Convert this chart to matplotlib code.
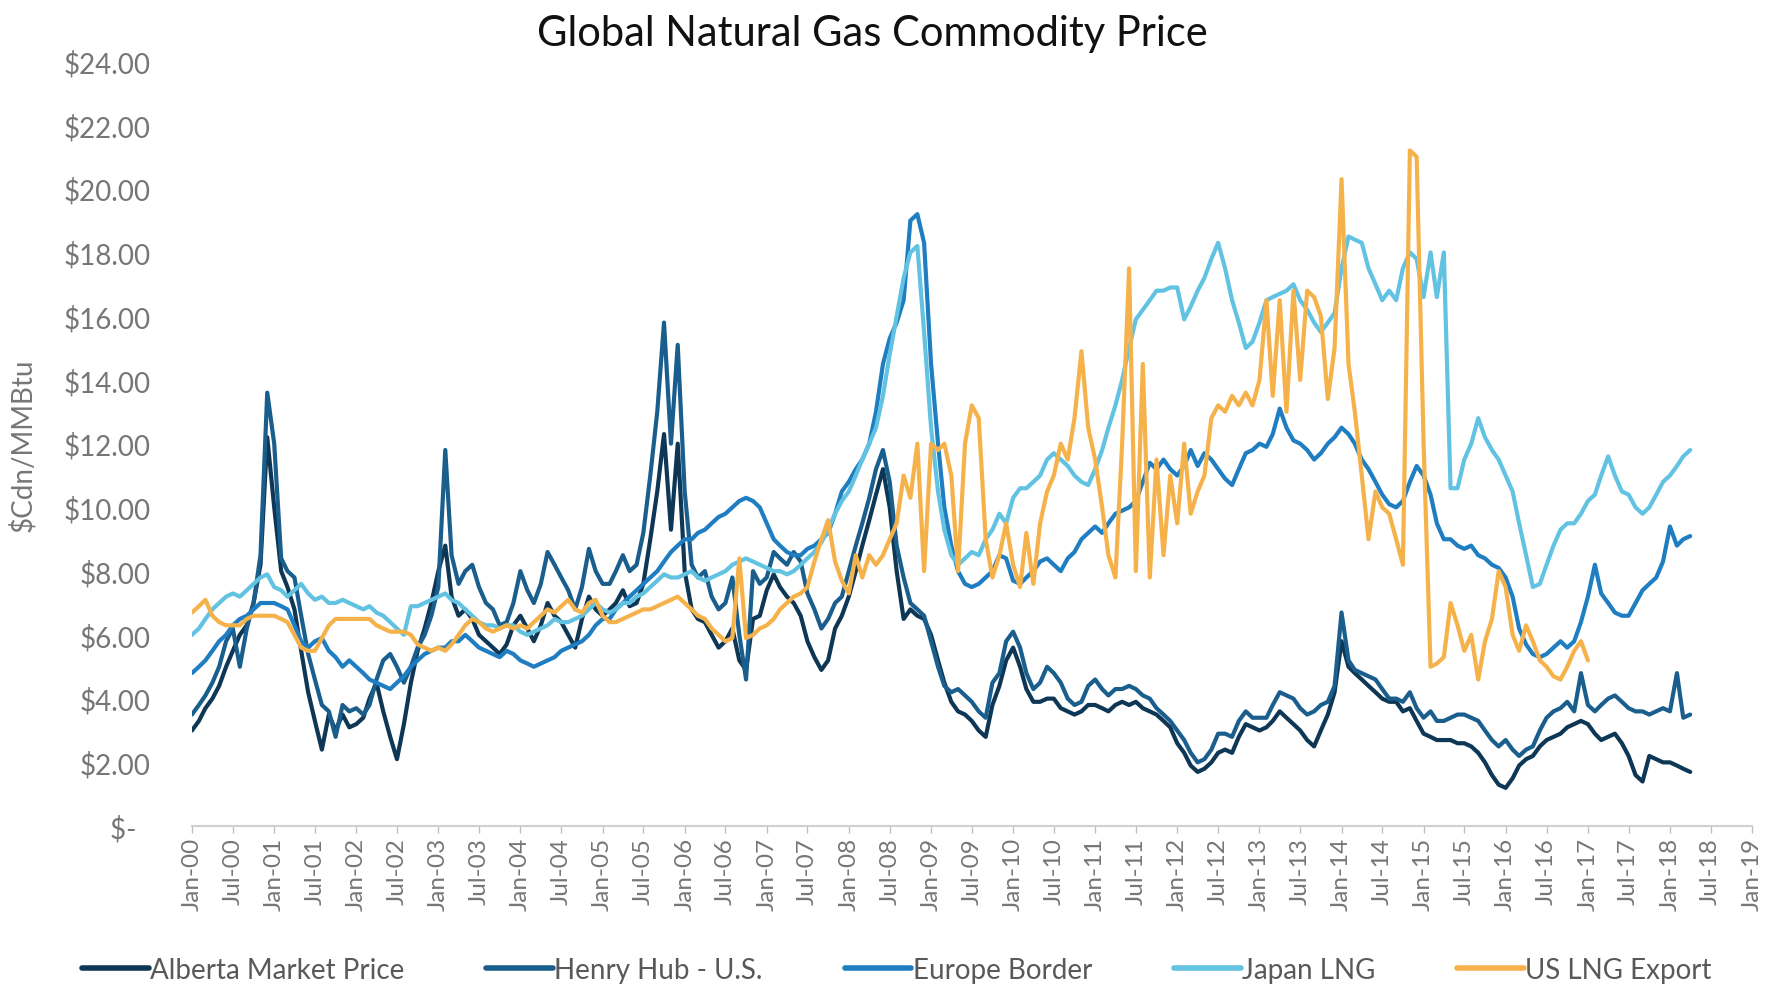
import numpy as np
import pandas as pd
import matplotlib
matplotlib.use("Agg")
import matplotlib.pyplot as plt
from matplotlib.ticker import FuncFormatter, FixedLocator

# monthly prices, $Cdn/MMBtu, Jan-00 onwards
alberta = [
    3.0, 3.3, 3.7, 4.0, 4.4, 5.0, 5.5, 6.0, 6.3, 7.0, 8.2, 12.2,
    10.0, 8.0, 7.5, 6.8, 5.5, 4.2, 3.3, 2.4, 3.5, 3.0, 3.5, 3.1,
    3.2, 3.4, 4.0, 4.5, 3.6, 2.8, 2.1, 3.2, 4.5, 5.5, 6.2, 7.0,
    8.0, 8.8, 7.2, 6.6, 6.8, 6.5, 6.0, 5.8, 5.6, 5.4, 5.7, 6.3,
    6.6, 6.2, 5.8, 6.3, 7.0, 6.6, 6.4, 6.0, 5.6, 6.5, 7.2, 6.8,
    6.6, 6.8, 7.0, 7.4, 6.9, 7.0, 7.6, 9.0, 10.5, 12.3, 9.3, 12.0,
    8.0, 6.8, 6.5, 6.4, 6.0, 5.6, 5.8, 6.2, 5.2, 4.9, 6.5, 6.6,
    7.4, 7.9, 7.5, 7.2, 7.0, 6.6, 5.8, 5.3, 4.9, 5.2, 6.2, 6.6,
    7.2, 8.0, 8.8, 9.6, 10.4, 11.2, 10.0, 8.0, 6.5, 6.8, 6.6, 6.5,
    6.0, 5.2, 4.5, 3.9, 3.6, 3.5, 3.3, 3.0, 2.8, 3.8, 4.4, 5.2,
    5.6, 5.0, 4.3, 3.9, 3.9, 4.0, 4.0, 3.7, 3.6, 3.5, 3.6, 3.8,
    3.8, 3.7, 3.6, 3.8, 3.9, 3.8, 3.9, 3.7, 3.6, 3.5, 3.3, 3.1,
    2.6, 2.3, 1.9, 1.7, 1.8, 2.0, 2.3, 2.4, 2.3, 2.8, 3.2, 3.1,
    3.0, 3.1, 3.3, 3.6, 3.4, 3.2, 3.0, 2.7, 2.5, 3.0, 3.5, 4.2,
    5.8, 5.0, 4.8, 4.6, 4.4, 4.2, 4.0, 3.9, 3.9, 3.6, 3.7, 3.3,
    2.9, 2.8, 2.7, 2.7, 2.7, 2.6, 2.6, 2.5, 2.3, 2.0, 1.6, 1.3,
    1.2, 1.5, 1.9, 2.1, 2.2, 2.5, 2.7, 2.8, 2.9, 3.1, 3.2, 3.3,
    3.2, 2.9, 2.7, 2.8, 2.9, 2.6, 2.2, 1.6, 1.4, 2.2, 2.1, 2.0,
    2.0, 1.9, 1.8, 1.7,
]

henry_hub = [
    3.5, 3.8, 4.1, 4.5, 5.0, 5.8, 6.2, 5.0, 6.2, 7.0, 8.5, 13.6,
    12.0, 8.4, 8.0, 7.8, 6.6, 5.4, 4.6, 3.8, 3.6, 2.8, 3.8, 3.6,
    3.7, 3.5, 3.8, 4.6, 5.2, 5.4, 5.0, 4.5, 5.0, 5.6, 6.0, 6.6,
    7.5, 11.8, 8.5, 7.6, 8.0, 8.2, 7.5, 7.0, 6.8, 6.3, 6.4, 7.0,
    8.0, 7.4, 7.0, 7.6, 8.6, 8.2, 7.8, 7.4, 6.8, 7.5, 8.7, 8.0,
    7.6, 7.6, 8.0, 8.5, 8.0, 8.2, 9.2, 11.0, 13.0, 15.8, 12.0, 15.1,
    10.5, 8.2, 7.8, 8.0, 7.2, 6.8, 7.0, 7.8, 6.0, 4.6, 8.0, 7.6,
    7.8, 8.6, 8.4, 8.2, 8.6, 8.3, 7.3, 6.8, 6.2, 6.5, 7.0, 7.2,
    8.0, 8.8, 9.5, 10.3, 11.2, 11.8, 10.8, 8.8, 7.8, 7.0, 6.8, 6.6,
    5.8, 5.0, 4.4, 4.2, 4.3, 4.1, 3.9, 3.6, 3.4, 4.5, 4.8, 5.8,
    6.1, 5.6, 4.8, 4.3, 4.5, 5.0, 4.8, 4.5, 4.0, 3.8, 3.9, 4.4,
    4.6, 4.3, 4.1, 4.3, 4.3, 4.4, 4.3, 4.1, 4.0, 3.7, 3.5, 3.3,
    3.0, 2.7, 2.3, 2.0, 2.1, 2.4, 2.9, 2.9, 2.8, 3.3, 3.6, 3.4,
    3.4, 3.4, 3.8, 4.2, 4.1, 4.0, 3.7, 3.5, 3.6, 3.8, 3.9, 4.4,
    6.7, 5.2, 4.9, 4.8, 4.7, 4.6, 4.3, 4.0, 4.0, 3.9, 4.2, 3.7,
    3.4, 3.6, 3.3, 3.3, 3.4, 3.5, 3.5, 3.4, 3.3, 3.0, 2.7, 2.5,
    2.7, 2.4, 2.2, 2.4, 2.5, 3.0, 3.4, 3.6, 3.7, 3.9, 3.6, 4.8,
    3.8, 3.6, 3.8, 4.0, 4.1, 3.9, 3.7, 3.6, 3.6, 3.5, 3.6, 3.7,
    3.6, 4.8, 3.4, 3.5,
]

europe_border = [
    4.8, 5.0, 5.2, 5.5, 5.8, 6.0, 6.3, 6.5, 6.6, 6.8, 7.0, 7.0,
    7.0, 6.9, 6.8, 6.3, 5.8, 5.6, 5.8, 5.9, 5.5, 5.3, 5.0, 5.2,
    5.0, 4.8, 4.6, 4.5, 4.4, 4.3, 4.5, 4.7, 5.0, 5.2, 5.4, 5.5,
    5.6, 5.6, 5.8, 5.8, 6.0, 5.8, 5.6, 5.5, 5.4, 5.3, 5.5, 5.4,
    5.2, 5.1, 5.0, 5.1, 5.2, 5.3, 5.5, 5.6, 5.7, 5.8, 6.0, 6.3,
    6.5, 6.5, 6.8, 7.0, 7.2, 7.4, 7.6, 7.8, 8.0, 8.3, 8.6, 8.8,
    9.0, 9.0, 9.2, 9.3, 9.5, 9.7, 9.8, 10.0, 10.2, 10.3, 10.2, 10.0,
    9.5, 9.0, 8.8, 8.6, 8.5, 8.5, 8.7, 8.8, 9.0, 9.2, 9.8, 10.5,
    10.8, 11.2, 11.5, 12.0, 13.0, 14.5, 15.3, 15.8, 16.5, 19.0, 19.2, 18.3,
    14.5, 12.0, 10.0, 8.8, 8.0, 7.6, 7.5, 7.6, 7.8, 8.0, 8.5, 8.4,
    7.7, 7.6, 7.8, 8.0, 8.3, 8.4, 8.2, 8.0, 8.4, 8.6, 9.0, 9.2,
    9.4, 9.2, 9.5, 9.8, 9.9, 10.0, 10.2, 10.8, 11.4, 11.2, 11.5, 11.2,
    11.0, 11.3, 11.8, 11.3, 11.7, 11.5, 11.2, 10.9, 10.7, 11.2, 11.7, 11.8,
    12.0, 11.9, 12.3, 13.1, 12.5, 12.1, 12.0, 11.8, 11.5, 11.7, 12.0, 12.2,
    12.5, 12.3, 12.0, 11.5, 11.2, 10.8, 10.4, 10.1, 10.0, 10.2, 10.8, 11.3,
    11.0, 10.4, 9.5, 9.0, 9.0, 8.8, 8.7, 8.8, 8.5, 8.4, 8.2, 8.1,
    7.8, 7.2, 6.2, 5.7, 5.4, 5.3, 5.4, 5.6, 5.8, 5.6, 5.8, 6.4,
    7.2, 8.2, 7.3, 7.0, 6.7, 6.6, 6.6, 7.0, 7.4, 7.6, 7.8, 8.3,
    9.4, 8.8, 9.0, 9.1,
]

japan_lng = [
    6.0, 6.2, 6.5, 6.8, 7.0, 7.2, 7.3, 7.2, 7.4, 7.6, 7.8, 7.9,
    7.5, 7.4, 7.2, 7.4, 7.6, 7.3, 7.1, 7.2, 7.0, 7.0, 7.1, 7.0,
    6.9, 6.8, 6.9, 6.7, 6.6, 6.4, 6.2, 6.0, 6.9, 6.9, 7.0, 7.1,
    7.2, 7.3, 7.1, 7.0, 6.8, 6.6, 6.4, 6.3, 6.3, 6.2, 6.3, 6.3,
    6.1, 6.0, 6.1, 6.2, 6.3, 6.5, 6.4, 6.4, 6.5, 6.6, 6.8, 7.0,
    6.8, 6.7, 6.8, 7.0, 7.0, 7.2, 7.3, 7.5, 7.7, 7.9, 7.8, 7.8,
    7.9, 8.0, 7.8, 7.7, 7.8, 7.9, 8.0, 8.2, 8.3, 8.4, 8.3, 8.2,
    8.1, 8.0, 8.0, 7.9, 8.0, 8.2, 8.4, 8.6, 8.9, 9.3, 9.8, 10.2,
    10.5, 11.0, 11.5, 12.0, 12.5, 13.5, 14.8, 16.0, 17.2, 18.0, 18.2, 15.5,
    12.5, 10.5, 9.3, 8.5, 8.2, 8.4, 8.6, 8.5, 9.0, 9.3, 9.8, 9.5,
    10.3, 10.6, 10.6, 10.8, 11.0, 11.5, 11.7, 11.5, 11.3, 11.0, 10.8, 10.7,
    11.2, 11.8, 12.5, 13.2, 14.0, 15.0, 15.9, 16.2, 16.5, 16.8, 16.8, 16.9,
    16.9, 15.9, 16.3, 16.8, 17.2, 17.8, 18.3, 17.5, 16.5, 15.8, 15.0, 15.2,
    15.8, 16.5, 16.6, 16.7, 16.8, 17.0, 16.5, 16.2, 15.8, 15.5, 15.8, 16.1,
    17.5, 18.5, 18.4, 18.3, 17.5, 17.0, 16.5, 16.8, 16.5, 17.5, 18.0, 17.8,
    16.6, 18.0, 16.6, 18.0, 10.6, 10.6, 11.5, 12.0, 12.8, 12.2, 11.8, 11.5,
    11.0, 10.5, 9.5, 8.5, 7.5, 7.6, 8.2, 8.8, 9.3, 9.5, 9.5, 9.8,
    10.2, 10.4, 11.0, 11.6, 11.0, 10.5, 10.4, 10.0, 9.8, 10.0, 10.4, 10.8,
    11.0, 11.3, 11.6, 11.8,
]

us_lng_export = [
    6.7, 6.9, 7.1, 6.6, 6.4, 6.3, 6.3, 6.3, 6.5, 6.6, 6.6, 6.6,
    6.6, 6.5, 6.4, 6.0, 5.6, 5.5, 5.5, 5.9, 6.3, 6.5, 6.5, 6.5,
    6.5, 6.5, 6.5, 6.3, 6.2, 6.1, 6.1, 6.1, 6.0, 5.7, 5.6, 5.5,
    5.6, 5.5, 5.7, 6.0, 6.3, 6.5, 6.4, 6.2, 6.1, 6.2, 6.3, 6.2,
    6.3, 6.2, 6.4, 6.6, 6.8, 6.7, 6.9, 7.1, 6.8, 6.7, 7.0, 7.1,
    6.6, 6.4, 6.4, 6.5, 6.6, 6.7, 6.8, 6.8, 6.9, 7.0, 7.1, 7.2,
    7.0, 6.8, 6.6, 6.5, 6.2, 6.0, 5.8, 5.9, 8.4, 5.9, 6.0, 6.2,
    6.3, 6.5, 6.8, 7.0, 7.2, 7.3, 7.5, 8.3, 9.0, 9.6, 8.3, 7.7,
    7.3, 8.5, 7.8, 8.5, 8.2, 8.5, 9.0, 9.5, 11.0, 10.3, 12.0, 8.0,
    12.0, 11.8, 12.0, 11.0, 8.0, 12.0, 13.2, 12.8, 9.0, 7.8, 8.5, 9.5,
    8.2, 7.5, 9.2, 7.6, 9.5, 10.5, 11.0, 12.0, 11.5, 12.8, 14.9, 12.5,
    11.5, 10.0, 8.5, 7.8, 12.0, 17.5, 8.0, 14.5, 7.8, 11.5, 8.5, 11.0,
    9.5, 12.0, 9.8, 10.5, 11.0, 12.8, 13.2, 13.0, 13.5, 13.2, 13.6, 13.2,
    14.0, 16.5, 13.5, 16.5, 13.0, 16.8, 14.0, 16.8, 16.6, 16.0, 13.4, 15.0,
    20.3, 14.5, 13.0, 11.0, 9.0, 10.5, 10.0, 9.8, 9.0, 8.2, 21.2, 21.0,
    12.0, 5.0, 5.1, 5.3, 7.0, 6.3, 5.5, 6.0, 4.6, 5.8, 6.5, 8.0,
    7.5, 6.0, 5.5, 6.3, 5.8, 5.2, 5.0, 4.7, 4.6, 5.0, 5.5, 5.8,
    5.2,
]

series_names = ["Alberta Market Price", "Henry Hub - U.S.", "Europe Border",
                "Japan LNG", "US LNG Export"]
series_colors = ["#0E3756", "#1A5E8D", "#1F7DC2", "#62C2E2", "#F6B24A"]

TICK_GREY = "#767676"
LEGEND_GREY = "#595959"
FONT = "Lato"


def money(v, pos):
    if abs(v) < 1e-9:
        return "$-  "
    return f"${v:.2f}"


def main():
    plt.rcParams["font.family"] = [FONT, "DejaVu Sans"]

    fig = plt.figure(figsize=(17.69, 9.87), dpi=100)
    ax = fig.add_axes([0.1085, 0.162, 0.8819, 0.775])

    all_series = [alberta, henry_hub, europe_border, japan_lng, us_lng_export]
    for vals, name, col in zip(all_series, series_names, series_colors):
        dates = pd.date_range("2000-01-01", periods=len(vals), freq="MS")
        ax.plot(dates, vals, color=col, lw=3.0, label=name,
                solid_joinstyle="round", solid_capstyle="round")

    # x axis: a tick every six months
    ticks = pd.date_range("2000-01-01", "2019-01-01", freq="6MS")
    ax.set_xlim(ticks[0], ticks[-1])
    ax.xaxis.set_major_locator(FixedLocator(matplotlib.dates.date2num(ticks)))
    ax.set_xticklabels([t.strftime("%b-%y") for t in ticks], rotation=90,
                       fontsize=17.5, color=TICK_GREY)
    ax.tick_params(axis="x", length=5, width=1, color="#BFBFBF", pad=3)

    ax.set_ylim(0, 24)
    ax.set_yticks(np.arange(0, 25, 2))
    ax.yaxis.set_major_formatter(FuncFormatter(money))
    ax.tick_params(axis="y", length=0, pad=30, labelsize=20, labelcolor=TICK_GREY)

    for side in ["left", "right", "top"]:
        ax.spines[side].set_visible(False)
    ax.spines["bottom"].set_color("#D0D0D0")
    ax.spines["bottom"].set_linewidth(1.5)

    fig.text(0.493, 0.9655, "Global Natural Gas Commodity Price",
             ha="center", va="center", fontsize=30, color="#111111")
    fig.text(0.0124, 0.549, "$Cdn/MMBtu", rotation=90, ha="center",
             va="center", fontsize=20, color=TICK_GREY)

    leg = fig.legend(loc="center", bbox_to_anchor=(0.507, 0.016), ncol=5,
                     frameon=False, fontsize=20, handlelength=2.4,
                     handletextpad=0.05, columnspacing=2.95)
    for t in leg.get_texts():
        t.set_color(LEGEND_GREY)
    for h in leg.get_lines():
        h.set_linewidth(4)

    fig.savefig("out.png", dpi=100)


if __name__ == "__main__":
    main()
